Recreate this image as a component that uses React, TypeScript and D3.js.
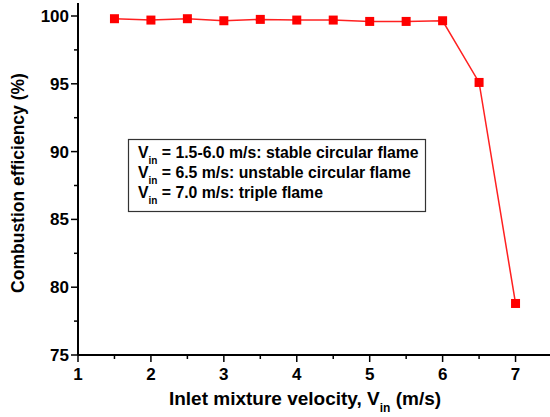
import { useEffect, useRef } from "react";
import * as d3 from "d3";

const velocities = [1.5, 2, 2.5, 3, 3.5, 4, 4.5, 5, 5.5, 6, 6.5, 7];
const efficiencies = [99.8, 99.7, 99.8, 99.65, 99.75, 99.7, 99.7, 99.6, 99.6, 99.65, 95.1, 78.8];
const xTicks = [1, 2, 3, 4, 5, 6, 7];
const yTicks = [75, 80, 85, 90, 95, 100];
const legendLines = [
  { value: "1.5-6.0", desc: "stable circular flame" },
  { value: "6.5", desc: "unstable circular flame" },
  { value: "7.0", desc: "triple flame" },
];

const W = 550;
const H = 417;
const FONT = "'Liberation Sans', Arial, sans-serif";

export default function App() {
  const svgRef = useRef<SVGSVGElement>(null);

  useEffect(() => {
    if (!svgRef.current) return;
    const svg = d3.select(svgRef.current);
    svg.selectAll("*").remove();

    const x = d3.scaleLinear().domain([1, 7.5]).range([78, 552]);
    const y = d3.scaleLinear().domain([75, 100]).range([355, 16]);

    const g = svg.append("g");

    // axes lines
    g.append("line")
      .attr("x1", x(1)).attr("x2", W)
      .attr("y1", y(75)).attr("y2", y(75))
      .attr("stroke", "#000").attr("stroke-width", 2);
    g.append("line")
      .attr("x1", x(1)).attr("x2", x(1))
      .attr("y1", 3).attr("y2", y(75))
      .attr("stroke", "#000").attr("stroke-width", 2);

    // x ticks (major + minor)
    d3.range(1, 7.51, 0.5).forEach((v) => {
      const major = Number.isInteger(v);
      g.append("line")
        .attr("x1", x(v)).attr("x2", x(v))
        .attr("y1", y(75)).attr("y2", y(75) + (major ? 7 : 4))
        .attr("stroke", "#000").attr("stroke-width", 1.5);
    });
    xTicks.forEach((v) => {
      g.append("text")
        .attr("x", x(v)).attr("y", y(75) + 25)
        .attr("text-anchor", "middle")
        .style("font", `bold 17px ${FONT}`)
        .text(v);
    });

    // y ticks
    d3.range(75, 100.1, 2.5).forEach((v) => {
      const major = v % 5 === 0;
      g.append("line")
        .attr("x1", x(1) - (major ? 7 : 4)).attr("x2", x(1))
        .attr("y1", y(v)).attr("y2", y(v))
        .attr("stroke", "#000").attr("stroke-width", 1.5);
    });
    yTicks.forEach((v) => {
      g.append("text")
        .attr("x", x(1) - 9).attr("y", y(v) + 6)
        .attr("text-anchor", "end")
        .style("font", `bold 17px ${FONT}`)
        .text(v);
    });

    // axis titles
    g.append("text")
      .attr("transform", `translate(24,183) rotate(-90)`)
      .attr("text-anchor", "middle")
      .style("font", `bold 17.5px ${FONT}`)
      .text("Combustion efficiency (%)");

    const xt = g.append("text")
      .attr("x", 305).attr("y", 405)
      .attr("text-anchor", "middle")
      .style("font", `bold 19px ${FONT}`);
    xt.append("tspan").text("Inlet mixture velocity, V");
    xt.append("tspan").attr("dy", 7).style("font-size", "12px").text("in");
    xt.append("tspan").attr("dy", -7).text(" (m/s)");

    // data line
    const data = velocities.map((v, i) => ({ v, e: efficiencies[i] }));
    g.append("path")
      .datum(data)
      .attr("fill", "none")
      .attr("stroke", "#ff2020")
      .attr("stroke-width", 1.5)
      .attr("d", d3.line<{ v: number; e: number }>().x((d) => x(d.v)).y((d) => y(d.e)));

    g.selectAll(".pt")
      .data(data)
      .enter()
      .append("rect")
      .attr("x", (d) => x(d.v) - 4.5)
      .attr("y", (d) => y(d.e) - 4.5)
      .attr("width", 9)
      .attr("height", 9)
      .attr("fill", "#ff0000");

    // legend box
    g.append("rect")
      .attr("x", 128.5).attr("y", 139.5)
      .attr("width", 297).attr("height", 72)
      .attr("fill", "#fff")
      .attr("stroke", "#333").attr("stroke-width", 1.2);

    legendLines.forEach((l, i) => {
      const t = g.append("text")
        .attr("x", 138).attr("y", 158 + i * 20)
        .style("font", `bold 15.8px ${FONT}`);
      t.append("tspan").text("V");
      t.append("tspan").attr("dy", 6).style("font-size", "10px").text("in");
      t.append("tspan").attr("dy", -6).text(` = ${l.value} m/s: ${l.desc}`);
    });
  }, []);

  return (
    <div style={{ position: "absolute", left: 0, top: 0 }}>
      <svg ref={svgRef} width={W} height={H} style={{ display: "block", background: "#fff" }} />
    </div>
  );
}
